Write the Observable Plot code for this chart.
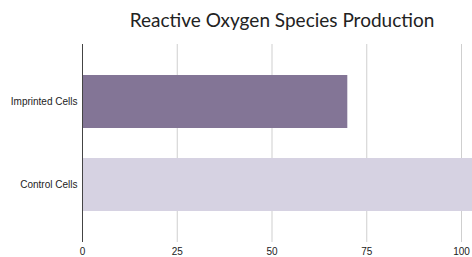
<!DOCTYPE html>
<html>
<head>
<meta charset="utf-8">
<script src="https://cdn.jsdelivr.net/npm/d3@7"></script>
<script src="https://cdn.jsdelivr.net/npm/@observablehq/plot@0.6"></script>
<style>
  html, body { margin: 0; padding: 0; background: #fff; }
  #title { height: 40px; width: 472px; box-sizing: border-box; font-family: Lato, sans-serif; font-size: 19px; color: #222; padding-top: 9px; padding-left: 92px; text-align: center; line-height: 22px; }
</style>
</head>
<body>
<div id="title">Reactive Oxygen Species Production</div>
<div id="chart"></div>
<script>
const categories = ["Imprinted Cells", "Control Cells"];
const values = [70, 104];
const colors = ["#837596", "#d6d2e2"];
const xTicks = [0, 25, 50, 75, 100];

const data = categories.map((c, i) => ({category: c, value: values[i], color: colors[i]}));

const chart = Plot.plot({
  width: 472,
  height: 217,
  marginTop: 4,
  marginBottom: 15,
  marginLeft: 82,
  marginRight: 11,
  style: {fontFamily: "Liberation Sans, Arial, sans-serif", fontSize: "10px", color: "#222", background: "#fff"},
  x: {domain: [0, 100], ticks: xTicks, tickSize: 0, tickPadding: 5, label: null},
  y: {domain: categories, padding: 0.36, tickSize: 0, tickPadding: 5, label: null},
  marks: [
    Plot.gridX(xTicks.filter(d => d > 0), {stroke: "#cfcfcf", strokeOpacity: 1, strokeWidth: 1}),
    Plot.barX(data, {y: "category", x: "value", fill: "color"}),
    Plot.ruleX([0], {stroke: "#444", strokeWidth: 1})
  ]
});
document.getElementById("chart").appendChild(chart);
</script>
</body>
</html>
